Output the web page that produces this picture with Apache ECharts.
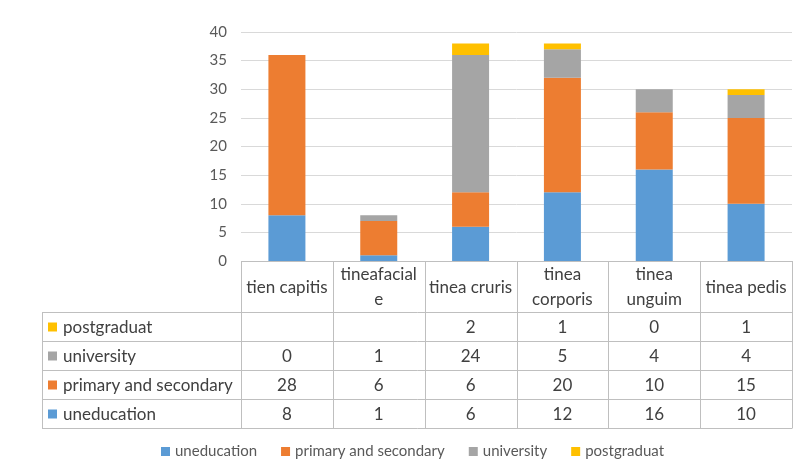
<!DOCTYPE html>
<html>
<head>
<meta charset="utf-8">
<script src="https://cdn.jsdelivr.net/npm/echarts@6/dist/echarts.min.js"></script>
<style>
  html, body { margin: 0; padding: 0; background: #fff; }
  #chart { width: 800px; height: 475px; }
</style>
</head>
<body>
<div id="chart"></div>
<script>
// Cases by site of infection, stacked by education level
const categories = ['tien capitis', 'tineafaciale', 'tinea cruris', 'tinea corporis', 'tinea unguim', 'tinea pedis'];
const headerLabels = ['tien capitis', 'tineafacial\ne', 'tinea cruris', 'tinea\ncorporis', 'tinea\nunguim', 'tinea pedis'];
const seriesNames = ['uneducation', 'primary and secondary', 'university', 'postgraduat'];
const uneducation = [8, 1, 6, 12, 16, 10];
const primarySecondary = [28, 6, 6, 20, 10, 15];
const university = [0, 1, 24, 5, 4, 4];
const postgraduat = [null, null, 2, 1, 0, 1];
const yTicks = { min: 0, max: 40, step: 5 };

const seriesValues = [uneducation, primarySecondary, university, postgraduat];
const colors = ['#5B9BD5', '#ED7D31', '#A5A5A5', '#FFC000'];
const FONT = 'Lato, "Open Sans", sans-serif';
const TEXT = '#404040';
const BORDER = '#BFBFBF';
const TABLE_FONT = '17px ' + FONT;

const gridLeft = 241, gridRight = 792, gridTop = 32, axisY = 261;

const chart = echarts.init(document.getElementById('chart'), null, { renderer: 'canvas' });

chart.setOption({
  animation: false,
  color: colors,
  textStyle: { fontFamily: FONT },
  grid: { left: gridLeft, right: 800 - gridRight, top: gridTop, bottom: 475 - axisY, containLabel: false },
  xAxis: {
    type: 'category',
    data: categories,
    axisLine: { show: false },
    axisTick: { show: false },
    axisLabel: { show: false }
  },
  yAxis: {
    type: 'value',
    min: yTicks.min, max: yTicks.max, interval: yTicks.step,
    axisLine: { show: false },
    axisTick: { show: false },
    axisLabel: { color: '#595959', fontSize: 15, fontFamily: FONT, margin: 14 },
    splitLine: { lineStyle: { color: '#D9D9D9', width: 1 } }
  },
  legend: {
    data: seriesNames,
    bottom: 11,
    left: 156,
    icon: 'rect',
    itemWidth: 9,
    itemHeight: 9,
    itemGap: 24,
    textStyle: { color: '#595959', fontSize: 15, fontFamily: FONT }
  },
  series: seriesNames.map((name, k) => ({
    name: name,
    type: 'bar',
    stack: 'total',
    barWidth: 37,
    data: seriesValues[k],
    itemStyle: { color: colors[k] }
  }))
});

// Data table under the plot, laid out from the category axis
function buildTable() {
  const els = [];
  const colHalf = (gridRight - gridLeft) / categories.length / 2;
  const centers = categories.map(c => chart.convertToPixel({ xAxisIndex: 0 }, c));
  const y0 = chart.convertToPixel({ yAxisIndex: 0 }, 0);
  const headerBottom = 312;
  const rowH = 29;
  const tableLeft = 42;
  const rowOrder = [3, 2, 1, 0];
  const tableBottom = headerBottom + rowH * rowOrder.length;
  const line = (x1, y1, x2, y2) => ({
    type: 'line', silent: true,
    shape: { x1: x1, y1: y1, x2: x2, y2: y2 },
    style: { stroke: BORDER, lineWidth: 1 }
  });

  // axis line / top of header row
  els.push(line(gridLeft, Math.round(y0) + 0.5, gridRight, Math.round(y0) + 0.5));
  // column borders
  const bounds = [centers[0] - colHalf].concat(centers.map(c => c + colHalf));
  bounds.forEach(b => {
    const x = Math.round(b) + 0.5;
    els.push(line(x, Math.round(y0), x, tableBottom));
  });
  els.push(line(tableLeft + 0.5, headerBottom, tableLeft + 0.5, tableBottom));
  // row borders
  for (let r = 0; r <= rowOrder.length; r++) {
    const y = headerBottom + r * rowH + 0.5;
    els.push(line(tableLeft, y, gridRight + 0.5, y));
  }
  // header cells
  centers.forEach((cx, i) => {
    els.push({
      type: 'text', silent: true,
      style: {
        x: cx, y: (y0 + headerBottom) / 2 + 1,
        text: headerLabels[i],
        fill: TEXT, font: TABLE_FONT,
        align: 'center', verticalAlign: 'middle', lineHeight: 25
      }
    });
  });
  // body rows
  rowOrder.forEach((k, r) => {
    const cy = headerBottom + r * rowH + rowH / 2 + 1;
    els.push({
      type: 'rect', silent: true,
      shape: { x: tableLeft + 6, y: cy - 5, width: 9, height: 9 },
      style: { fill: colors[k] }
    });
    els.push({
      type: 'text', silent: true,
      style: {
        x: tableLeft + 21, y: cy, text: seriesNames[k],
        fill: TEXT, font: TABLE_FONT, align: 'left', verticalAlign: 'middle'
      }
    });
    seriesValues[k].forEach((v, i) => {
      if (v === null) return;
      els.push({
        type: 'text', silent: true,
        style: {
          x: centers[i], y: cy, text: String(v),
          fill: TEXT, font: TABLE_FONT, align: 'center', verticalAlign: 'middle'
        }
      });
    });
  });
  chart.setOption({ graphic: { elements: els } });
}
buildTable();
</script>
</body>
</html>
